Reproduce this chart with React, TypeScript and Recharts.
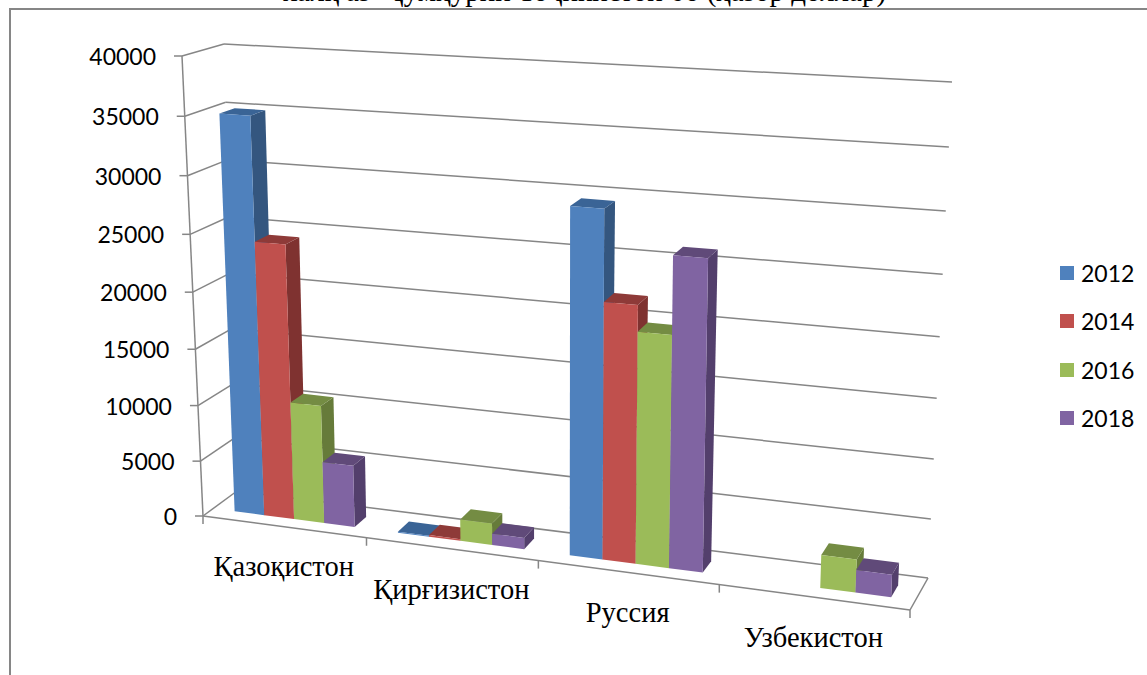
import React from 'react';
import { BarChart, Bar, XAxis, YAxis, CartesianGrid, Legend } from 'recharts';

const categories = ['Қазоқистон', 'Қирғизистон', 'Руссия', 'Узбекистон'];
const values2012 = [35000, 80, 29500, 0];
const values2014 = [24300, 150, 21900, 0];
const values2016 = [10500, 1900, 19700, 2800];
const values2018 = [5500, 1000, 26200, 1900];
const yTicks = [0, 5000, 10000, 15000, 20000, 25000, 30000, 35000, 40000];

const chartData = categories.map((name, i) => ({
  name,
  y2012: values2012[i],
  y2014: values2014[i],
  y2016: values2016[i],
  y2018: values2018[i],
}));

const seriesStyle = [
  { key: 'y2012', name: '2012', front: '#4F81BD', side: '#34567F', top: '#3A6496' },
  { key: 'y2014', name: '2014', front: '#C0504D', side: '#7F3230', top: '#8E3A38' },
  { key: 'y2016', name: '2016', front: '#9BBB59', side: '#667B3A', top: '#748C43' },
  { key: 'y2018', name: '2018', front: '#8064A2', side: '#533F6C', top: '#604A79' },
];

// flat plot rectangle recharts works in, it gets projected to the 3d box below
const PLOT = { left: 100, top: 60, width: 800, height: 400 };
const GRID = '#868686';

type Pt = [number, number];

// unit square -> quad, corners are (0,0) (1,0) (1,1) (0,1)
function makeQuad(p0: Pt, p1: Pt, p2: Pt, p3: Pt) {
  const dx1 = p1[0] - p2[0], dx2 = p3[0] - p2[0], sx = p0[0] - p1[0] + p2[0] - p3[0];
  const dy1 = p1[1] - p2[1], dy2 = p3[1] - p2[1], sy = p0[1] - p1[1] + p2[1] - p3[1];
  const den = dx1 * dy2 - dx2 * dy1;
  const g = (sx * dy2 - dx2 * sy) / den;
  const h = (dx1 * sy - sx * dy1) / den;
  const a = p1[0] - p0[0] + g * p1[0], b = p3[0] - p0[0] + h * p3[0];
  const d = p1[1] - p0[1] + g * p1[1], e = p3[1] - p0[1] + h * p3[1];
  return (u: number, v: number): Pt => {
    const w = g * u + h * v + 1;
    return [(a * u + b * v + p0[0]) / w, (d * u + e * v + p0[1]) / w];
  };
}

const frontPlane = makeQuad([203, 516], [910, 610], [930, 103], [182, 56]);
const backPlane = makeQuad([237, 491], [928, 578], [952, 82], [224, 44]);

function project(u: number, v: number, depth: number): Pt {
  const f = frontPlane(u, v);
  const b = backPlane(u, v);
  return [f[0] + (b[0] - f[0]) * depth, f[1] + (b[1] - f[1]) * depth];
}

const toU = (x: number) => (x - PLOT.left) / PLOT.width;
const toV = (y: number) => (PLOT.top + PLOT.height - y) / PLOT.height;
const poly = (pts: Pt[]) => pts.map(p => p.join(',')).join(' ');

const Seg = ({ a, b }: { a: Pt; b: Pt }) => (
  <line x1={a[0]} y1={a[1]} x2={b[0]} y2={b[1]} stroke={GRID} strokeWidth={1.5} />
);

const Bar3D = (props: any) => {
  const { x, y, width, height, style } = props;
  if (!height || height <= 0) return null;
  const u0 = toU(x), u1 = toU(x + width), vt = toV(y), vb = toV(y + height);
  const d0 = 0.3, d1 = 0.68;
  return (
    <g>
      <polygon fill={style.side} points={poly([project(u1, vb, d0), project(u1, vb, d1), project(u1, vt, d1), project(u1, vt, d0)])} />
      <polygon fill={style.top} points={poly([project(u0, vt, d0), project(u1, vt, d0), project(u1, vt, d1), project(u0, vt, d1)])} />
      <polygon fill={style.front} points={poly([project(u0, vb, d0), project(u1, vb, d0), project(u1, vt, d0), project(u0, vt, d0)])} />
    </g>
  );
};

// back wall line and the side wall line for every y tick, floor edges on the zero line
const gridLine = (props: any) => {
  const v = toV(props.y1);
  const floor = Math.abs(v) < 0.001;
  return (
    <g key={props.key ?? props.y1}>
      <Seg a={project(0, v, 1)} b={project(1, v, 1)} />
      <Seg a={project(0, v, 0)} b={project(0, v, 1)} />
      {floor && <Seg a={project(0, 0, 0)} b={project(1, 0, 0)} />}
      {floor && <Seg a={project(1, 0, 0)} b={project(1, 0, 1)} />}
    </g>
  );
};

const YTick = (props: any) => {
  const { y, payload } = props;
  const v = toV(y);
  const p = project(0, v, 0);
  return (
    <g>
      {payload.value === 0 && <Seg a={project(0, 0, 0)} b={project(0, 1, 0)} />}
      <Seg a={[p[0] - 8, p[1]]} b={p} />
      <text x={p[0] - 26} y={p[1]} textAnchor="end" dominantBaseline="central" fontFamily="Lato" fontSize={23} fill="#000">
        {payload.value}
      </text>
    </g>
  );
};

const XTick = (props: any) => {
  const { x, payload, index } = props;
  const band = PLOT.width / categories.length;
  const c = project(toU(x), 0, 0);
  const right = project(toU(x + band / 2), 0, 0);
  const left = project(toU(x - band / 2), 0, 0);
  return (
    <g>
      {index === 0 && <Seg a={left} b={[left[0], left[1] + 8]} />}
      <Seg a={right} b={[right[0], right[1] + 8]} />
      <text x={c[0]} y={c[1] + 40} textAnchor="middle" dominantBaseline="central" fontFamily="Liberation Serif" fontSize={28.5} fill="#000">
        {payload.value}
      </text>
    </g>
  );
};

const LegendBox = ({ payload }: any) => (
  <div>
    {(payload || []).map((item: any) => (
      <div key={item.value} style={{ display: 'flex', alignItems: 'center', height: 48.3 }}>
        <span style={{ width: 14, height: 14, background: item.color, marginRight: 7 }} />
        <span style={{ fontFamily: 'Lato', fontSize: 23, color: '#000' }}>{item.value}</span>
      </div>
    ))}
  </div>
);

export default function App() {
  return (
    <div style={{ position: 'absolute', left: 0, top: 0, width: 1147, height: 675, overflow: 'hidden', background: '#fff' }}>
      <div style={{ position: 'absolute', left: 0, right: 0, top: -25, textAlign: 'center', paddingLeft: 22, fontFamily: 'Liberation Serif', fontSize: 29, color: '#000', whiteSpace: 'pre' }}>
        халқ аз  Ҷумҳурии Тоҷикистон бо (ҳазор доллар)
      </div>
      <div style={{ position: 'absolute', left: 9, top: 8, width: 1200, height: 700, borderLeft: '2px solid #868686', borderTop: '2px solid #868686' }} />
      <div style={{ position: 'absolute', left: 0, top: 0 }}>
        <BarChart
          width={1147}
          height={675}
          data={chartData}
          margin={{ left: PLOT.left - 1, top: PLOT.top, right: 1147 - PLOT.left - PLOT.width, bottom: 675 - PLOT.top - PLOT.height - 1 }}
          barCategoryGap="13.5%"
          barGap={0}
        >
          <CartesianGrid horizontal={gridLine} vertical={false} />
          <XAxis dataKey="name" height={1} axisLine={false} tickLine={false} interval={0} tick={XTick} />
          <YAxis width={1} domain={[0, 40000]} ticks={yTicks} axisLine={false} tickLine={false} tick={YTick} interval={0} />
          {seriesStyle.map(s => (
            <Bar
              key={s.key}
              dataKey={s.key}
              name={s.name}
              fill={s.front}
              isAnimationActive={false}
              shape={(p: any) => <Bar3D {...p} style={s} />}
            />
          ))}
          <Legend content={LegendBox} layout="vertical" align="center" verticalAlign="middle" wrapperStyle={{ position: 'absolute', left: 1060, top: 249, width: 87 }} />
        </BarChart>
      </div>
    </div>
  );
}
